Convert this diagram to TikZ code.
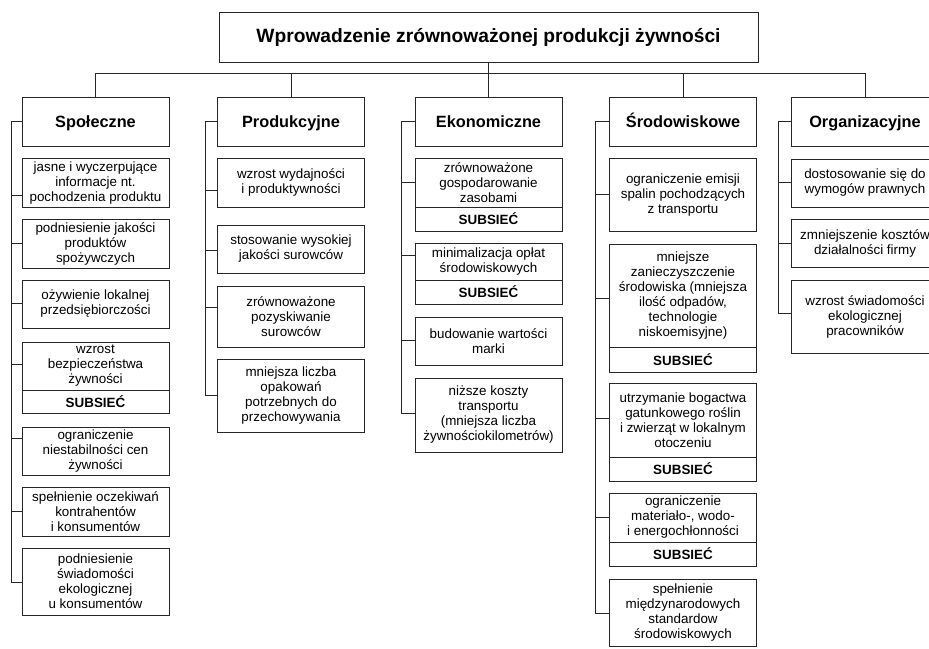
\documentclass[tikz,border=0pt]{standalone}
\usepackage{fontspec}
\setmainfont{Liberation Sans}
\begin{document}
\begin{tikzpicture}[x=1pt,y=-1pt,
  line width=0.8pt, draw=black!85,
  base/.style={draw=black!85, line width=0.8pt, inner sep=0pt, outer sep=0pt, align=center, minimum width=147pt},
  item/.style={base, font=\fontsize{13.4}{15}\selectfont},
  cat/.style={base, minimum height=49pt, text height=12pt, text depth=1pt, font=\fontsize{16.3}{19}\selectfont\bfseries},
  subnet/.style={base, minimum height=24pt, anchor=north, font=\fontsize{13.4}{15}\selectfont\bfseries},
  link/.style={draw=black!85, line width=0.8pt}
]
\useasboundingbox (0,0) rectangle (929,648);
\clip (0,0) rectangle (929,648);

% title
\node[base, minimum width=539pt, minimum height=50pt, font=\fontsize{19.2}{22}\selectfont\bfseries] (title) at (488.5,37) {Wprowadzenie zrównoważonej produkcji żywności};

% categories
\node[cat] (soc) at (95.5,121.5) {Społeczne};
\node[cat] (pro) at (291,121.5) {Produkcyjne};
\node[cat] (eko) at (488.5,121.5) {Ekonomiczne};
\node[cat] (env) at (683,121.5) {Środowiskowe};
\node[cat] (org) at (865,121.5) {Organizacyjne};

\draw[link] (title.south) -- (eko.north);
\draw[link] (soc.north) -- ++(0,-24) -| (org.north);
\draw[link] (pro.north) -- ++(0,-24);
\draw[link] (env.north) -- ++(0,-24);

% Społeczne
\node[item, minimum height=48.5pt] (s1) at (95.5,182.75) {jasne i wyczerpujące\\informacje nt.\\pochodzenia produktu};
\node[item, minimum height=49pt] (s2) at (95.5,243.5) {podniesienie jakości\\produktów\\spożywczych};
\node[item, minimum height=48pt] (s3) at (95.5,304) {ożywienie lokalnej\\przedsiębiorczości};
\node[item, minimum height=48pt] (s4) at (95.5,366) {wzrost\\bezpieczeństwa\\żywności};
\node[subnet, minimum height=23pt] (s4s) at (s4.south) {SUBSIEĆ};
\node[item, minimum height=48pt] (s5) at (95.5,451) {ograniczenie\\niestabilności cen\\żywności};
\node[item, minimum height=49pt] (s6) at (95.5,511.5) {spełnienie oczekiwań\\kontrahentów\\i konsumentów};
\node[item, minimum height=67pt] (s7) at (95.5,581.5) {podniesienie\\świadomości\\ekologicznej\\u konsumentów};

\coordinate (sk1) at (11,195);
\coordinate (sk2) at (11,243.3);
\coordinate (sk3) at (11,303);
\coordinate (sk4) at (11,364.5);
\coordinate (sk5) at (11,438.3);
\coordinate (sk6) at (11,511.7);
\coordinate (sk7) at (11,582);
\draw[link] (soc.west) -| (sk7) -- (sk7 -| s7.west);
\foreach \i in {1,...,6} \draw[link] (sk\i) -- (sk\i -| s\i.west);

% Produkcyjne
\node[item, minimum height=48.5pt] (p1) at (291,182.75) {wzrost wydajności\\i produktywności};
\node[item, minimum height=48pt] (p2) at (291,249) {stosowanie wysokiej\\jakości surowców};
\node[item, minimum height=61pt] (p3) at (291,316.5) {zrównoważone\\pozyskiwanie\\surowców};
\node[item, minimum height=73pt] (p4) at (291,395.5) {mniejsza liczba\\opakowań\\potrzebnych do\\przechowywania};

\coordinate (pk1) at (205,190);
\coordinate (pk2) at (205,250);
\coordinate (pk3) at (205,307);
\coordinate (pk4) at (205,395);
\draw[link] (pro.west) -| (pk4) -- (pk4 -| p4.west);
\foreach \i in {1,...,3} \draw[link] (pk\i) -- (pk\i -| p\i.west);

% Ekonomiczne
\node[item, minimum height=48.5pt] (e1) at (488.5,182.75) {zrównoważone\\gospodarowanie\\zasobami};
\node[subnet] (e1s) at (e1.south) {SUBSIEĆ};
\node[item, minimum height=37pt] (e2) at (488.5,261.5) {minimalizacja opłat\\środowiskowych};
\node[subnet] (e2s) at (e2.south) {SUBSIEĆ};
\node[item, minimum height=48pt] (e3) at (488.5,341) {budowanie wartości\\marki};
\node[item, minimum height=74pt] (e4) at (488.5,415) {niższe koszty\\transportu\\(mniejsza liczba\\żywnościokilometrów)};

\coordinate (ek1) at (401,182);
\coordinate (ek2) at (401,255);
\coordinate (ek3) at (401,340);
\coordinate (ek4) at (401,413);
\draw[link] (eko.west) -| (ek4) -- (ek4 -| e4.west);
\foreach \i in {1,...,3} \draw[link] (ek\i) -- (ek\i -| e\i.west);

% Środowiskowe
\node[item, minimum height=72.5pt] (v1) at (683,194.75) {ograniczenie emisji\\spalin pochodzących\\z transportu};
\node[item, minimum height=103pt] (v2) at (683,295.5) {mniejsze\\zanieczyszczenie\\środowiska (mniejsza\\ilość odpadów,\\technologie\\niskoemisyjne)};
\node[subnet, minimum height=25pt] (v2s) at (v2.south) {SUBSIEĆ};
\node[item, minimum height=74pt] (v3) at (683,420) {utrzymanie bogactwa\\gatunkowego roślin\\i zwierząt w lokalnym\\otoczeniu};
\node[subnet] (v3s) at (v3.south) {SUBSIEĆ};
\node[item, minimum height=49pt] (v4) at (683,517.5) {ograniczenie\\materiało-, wodo-\\i energochłonności};
\node[subnet] (v4s) at (v4.south) {SUBSIEĆ};
\node[item, minimum height=67pt] (v5) at (683,612.5) {spełnienie\\międzynarodowych\\standardow\\środowiskowych};

\coordinate (vk1) at (595,194);
\coordinate (vk2) at (595,298);
\coordinate (vk3) at (595,418);
\coordinate (vk4) at (595,517);
\coordinate (vk5) at (595,613);
\draw[link] (env.west) -| (vk5) -- (vk5 -| v5.west);
\foreach \i in {1,...,4} \draw[link] (vk\i) -- (vk\i -| v\i.west);

% Organizacyjne
\node[item, minimum height=48pt] (o1) at (865,183) {dostosowanie się do\\wymogów prawnych};
\node[item, minimum height=48pt] (o2) at (865,243) {zmniejszenie kosztów\\działalności firmy};
\node[item, minimum height=73pt] (o3) at (865,316.5) {wzrost świadomości\\ekologicznej\\pracowników};

\coordinate (ok1) at (778.5,182);
\coordinate (ok2) at (778.5,243);
\coordinate (ok3) at (778.5,313);
\draw[link] (org.west) -| (ok3) -- (ok3 -| o3.west);
\foreach \i in {1,2} \draw[link] (ok\i) -- (ok\i -| o\i.west);
\end{tikzpicture}
\end{document}
